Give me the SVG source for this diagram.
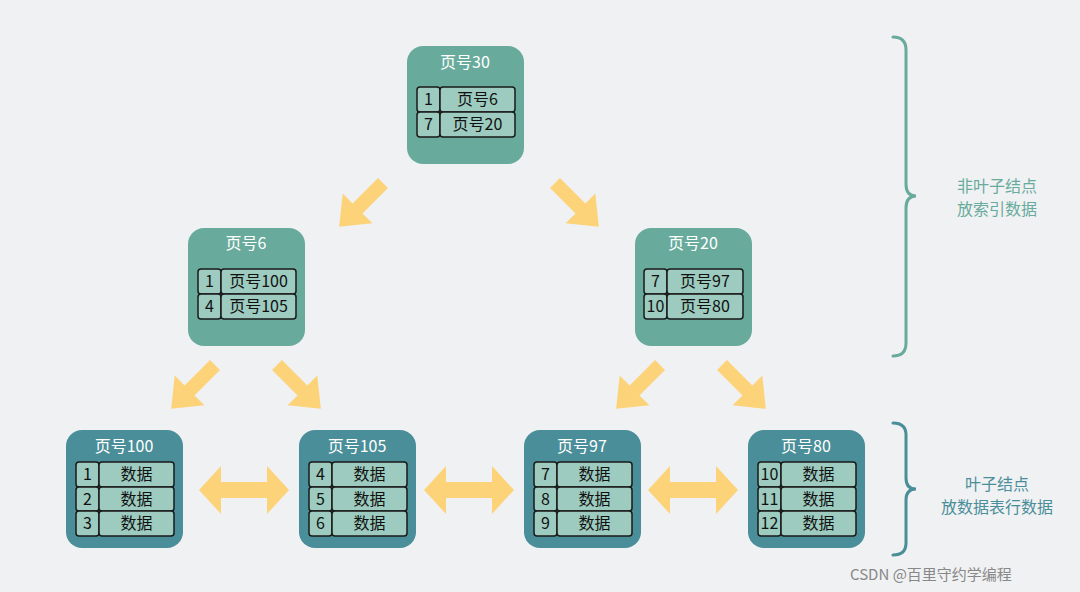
<svg xmlns="http://www.w3.org/2000/svg" width="1080" height="592" viewBox="0 0 1080 592">
<defs>
<style>
text{font-family:"Noto Sans CJK SC","Liberation Sans",sans-serif;}
.n1{fill:#68ab9c}.n2{fill:#4a8e99}
.t{fill:#fff;font-size:16px;text-anchor:middle}
.c{fill:#9dcbbf;stroke:#1a1a1a;stroke-width:1.5}
.ct{fill:#111;font-size:16px;text-anchor:middle}
.ar{fill:#fdd37a}
.br{fill:none;stroke-width:3;stroke-linecap:round}
.lb{font-size:16px;text-anchor:middle}
</style>
<polygon id="sa" points="0,-7 36,-7 36,-21 62,0 36,21 36,7 0,7"/>
<polygon id="da" points="0,0 22,-24 22,-8 68,-8 68,-24 90,0 68,24 68,8 22,8 22,24"/>
</defs>
<rect width="1080" height="592" fill="#f0f1f3"/>
<g id="n30"><rect class="n1" x="407" y="46" width="117" height="118" rx="16"/><text class="t" x="465" y="68">页号30</text>
<rect class="c" x="417" y="87" width="23" height="25" rx="3"/><rect class="c" x="440" y="87" width="75" height="25" rx="3"/>
<rect class="c" x="417" y="112" width="23" height="25" rx="3"/><rect class="c" x="440" y="112" width="75" height="25" rx="3"/>
<text class="ct" x="428.5" y="105">1</text><text class="ct" x="477.5" y="105">页号6</text><text class="ct" x="428.5" y="130">7</text><text class="ct" x="477.5" y="130">页号20</text></g>
<g id="n6"><rect class="n1" x="188" y="228" width="117" height="118" rx="16"/><text class="t" x="246" y="249">页号6</text>
<rect class="c" x="198" y="269" width="23" height="25" rx="3"/><rect class="c" x="221" y="269" width="75" height="25" rx="3"/>
<rect class="c" x="198" y="294" width="23" height="25" rx="3"/><rect class="c" x="221" y="294" width="75" height="25" rx="3"/>
<text class="ct" x="209.5" y="287">1</text><text class="ct" x="258.5" y="287">页号100</text><text class="ct" x="209.5" y="312">4</text><text class="ct" x="258.5" y="312">页号105</text></g>
<g id="n20"><rect class="n1" x="635" y="228" width="117" height="118" rx="16"/><text class="t" x="693" y="249">页号20</text>
<rect class="c" x="644" y="269" width="23" height="25" rx="3"/><rect class="c" x="667" y="269" width="76" height="25" rx="3"/>
<rect class="c" x="644" y="294" width="23" height="25" rx="3"/><rect class="c" x="667" y="294" width="76" height="25" rx="3"/>
<text class="ct" x="655.5" y="287">7</text><text class="ct" x="705" y="287">页号97</text><text class="ct" x="655.5" y="312">10</text><text class="ct" x="705" y="312">页号80</text></g>
<g id="n100"><rect class="n2" x="66" y="430" width="117" height="118" rx="16"/><text class="t" x="124" y="452">页号100</text>
<rect class="c" x="76" y="462" width="23" height="25" rx="3"/><rect class="c" x="99" y="462" width="75" height="25" rx="3"/>
<rect class="c" x="76" y="487" width="23" height="24" rx="3"/><rect class="c" x="99" y="487" width="75" height="24" rx="3"/>
<rect class="c" x="76" y="511" width="23" height="25" rx="3"/><rect class="c" x="99" y="511" width="75" height="25" rx="3"/>
<text class="ct" x="87.5" y="480">1</text><text class="ct" x="136.5" y="480">数据</text><text class="ct" x="87.5" y="505">2</text><text class="ct" x="136.5" y="505">数据</text><text class="ct" x="87.5" y="529">3</text><text class="ct" x="136.5" y="529">数据</text></g>
<g id="n105"><rect class="n2" x="299" y="430" width="117" height="118" rx="16"/><text class="t" x="357" y="452">页号105</text>
<rect class="c" x="309" y="462" width="23" height="25" rx="3"/><rect class="c" x="332" y="462" width="75" height="25" rx="3"/>
<rect class="c" x="309" y="487" width="23" height="24" rx="3"/><rect class="c" x="332" y="487" width="75" height="24" rx="3"/>
<rect class="c" x="309" y="511" width="23" height="25" rx="3"/><rect class="c" x="332" y="511" width="75" height="25" rx="3"/>
<text class="ct" x="320.5" y="480">4</text><text class="ct" x="369.5" y="480">数据</text><text class="ct" x="320.5" y="505">5</text><text class="ct" x="369.5" y="505">数据</text><text class="ct" x="320.5" y="529">6</text><text class="ct" x="369.5" y="529">数据</text></g>
<g id="n97"><rect class="n2" x="524" y="430" width="117" height="118" rx="16"/><text class="t" x="582" y="452">页号97</text>
<rect class="c" x="534" y="462" width="23" height="25" rx="3"/><rect class="c" x="557" y="462" width="75" height="25" rx="3"/>
<rect class="c" x="534" y="487" width="23" height="24" rx="3"/><rect class="c" x="557" y="487" width="75" height="24" rx="3"/>
<rect class="c" x="534" y="511" width="23" height="25" rx="3"/><rect class="c" x="557" y="511" width="75" height="25" rx="3"/>
<text class="ct" x="545.5" y="480">7</text><text class="ct" x="594.5" y="480">数据</text><text class="ct" x="545.5" y="505">8</text><text class="ct" x="594.5" y="505">数据</text><text class="ct" x="545.5" y="529">9</text><text class="ct" x="594.5" y="529">数据</text></g>
<g id="n80"><rect class="n2" x="748" y="430" width="117" height="118" rx="16"/><text class="t" x="806" y="452">页号80</text>
<rect class="c" x="758" y="462" width="23" height="25" rx="3"/><rect class="c" x="781" y="462" width="75" height="25" rx="3"/>
<rect class="c" x="758" y="487" width="23" height="24" rx="3"/><rect class="c" x="781" y="487" width="75" height="24" rx="3"/>
<rect class="c" x="758" y="511" width="23" height="25" rx="3"/><rect class="c" x="781" y="511" width="75" height="25" rx="3"/>
<text class="ct" x="769.5" y="480">10</text><text class="ct" x="818.5" y="480">数据</text><text class="ct" x="769.5" y="505">11</text><text class="ct" x="818.5" y="505">数据</text><text class="ct" x="769.5" y="529">12</text><text class="ct" x="818.5" y="529">数据</text></g>
<g id="connectors" class="ar">
<use href="#sa" transform="translate(383,183) rotate(135)"/>
<use href="#sa" transform="translate(555,183) rotate(45)"/>
<use href="#sa" transform="translate(215,365) rotate(135)"/>
<use href="#sa" transform="translate(277,365) rotate(45)"/>
<use href="#sa" transform="translate(660,365) rotate(135)"/>
<use href="#sa" transform="translate(722,365) rotate(45)"/>
<use href="#da" transform="translate(199,490)"/>
<use href="#da" transform="translate(424,490)"/>
<use href="#da" transform="translate(648,490)"/>
</g>
<g id="braces">
<path class="br" stroke="#68ab9c" d="M893,37 Q906,37 906,50 L906,184 Q906,196 916,196 Q906,196 906,208 L906,343 Q906,356 893,356"/>
<path class="br" stroke="#4a8e99" d="M893,423 Q906,423 906,435 L906,478 Q906,489 916,489 Q906,489 906,500 L906,543 Q906,555 893,555"/>
<text class="lb" fill="#68ab9c" x="997" y="192">非叶子结点</text>
<text class="lb" fill="#68ab9c" x="997" y="215">放索引数据</text>
<text class="lb" fill="#4a8e99" x="997" y="490">叶子结点</text>
<text class="lb" fill="#4a8e99" x="997" y="513">放数据表行数据</text>
</g>
<text x="850" y="580" font-size="15" fill="#888">CSDN @百里守约学编程</text>
</svg>
